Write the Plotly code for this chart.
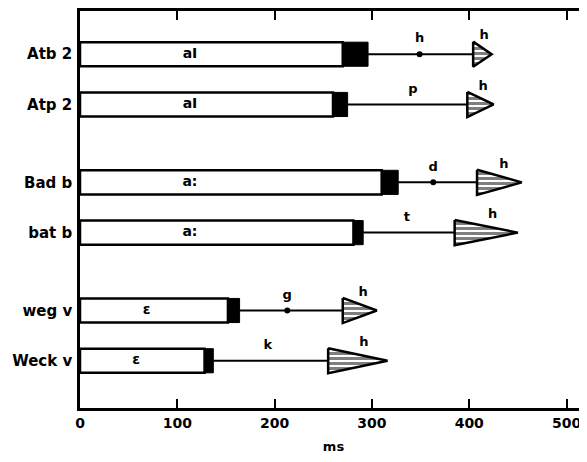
import plotly.graph_objects as go

# ---- data (ms) ----
words = ["Atb 2", "Atp 2", "Bad b", "bat b", "weg v", "Weck v"]
vowel_labels = ["aI", "aI", "a:", "a:", "ɛ", "ɛ"]
vowel_end = [270, 260, 310, 281, 152, 128]
closure_end = [296, 275, 327, 291, 164, 137]
release_x = [349, 342, 363, 336, 213, 193]
release_labels = ["h", "p", "d", "t", "g", "k"]
release_dot = [True, False, True, False, True, False]
asp_start = [404, 398, 408, 385, 270, 255]
asp_end = [423, 425, 454, 450, 305, 316]
x_ticks = [0, 100, 200, 300, 400, 500]

# ---- layout helpers ----
groups = [0, 0, 1, 1, 2, 2]
within, gap = 1.0, 1.55
ypos = []
y = 0.0
for i, g in enumerate(groups):
    if i > 0:
        y += within if groups[i] == groups[i - 1] else gap
    ypos.append(y)

bar_w = 0.48
arrow_h = 0.25
FONT = "DejaVu Sans"

fig = go.Figure()

# vowel (white) bars
fig.add_trace(go.Bar(
    y=ypos, x=vowel_end, base=0, orientation="h", width=bar_w,
    marker=dict(color="white", line=dict(color="black", width=2.5)),
    showlegend=False, hoverinfo="skip"))

# closure (black) segments
fig.add_trace(go.Bar(
    y=ypos, x=[c - v for c, v in zip(closure_end, vowel_end)], base=vowel_end,
    orientation="h", width=bar_w,
    marker=dict(color="black", line=dict(color="black", width=1)),
    showlegend=False, hoverinfo="skip"))

# release lines
for i in range(len(words)):
    fig.add_trace(go.Scatter(
        x=[closure_end[i], asp_start[i]], y=[ypos[i], ypos[i]], mode="lines",
        line=dict(color="black", width=2), showlegend=False, hoverinfo="skip"))

# aspiration arrows (striped triangles)
for i in range(len(words)):
    fig.add_trace(go.Scatter(
        x=[asp_start[i], asp_start[i], asp_end[i], asp_start[i]],
        y=[ypos[i] - arrow_h, ypos[i] + arrow_h, ypos[i], ypos[i] - arrow_h],
        mode="lines", fill="toself", fillcolor="white",
        fillpattern=dict(shape="-", fgcolor="black", bgcolor="white", size=5, solidity=0.6),
        line=dict(color="black", width=2.5), showlegend=False, hoverinfo="skip"))

# release dots
fig.add_trace(go.Scatter(
    x=[x for x, d in zip(release_x, release_dot) if d],
    y=[yy for yy, d in zip(ypos, release_dot) if d],
    mode="markers", marker=dict(color="black", size=6),
    showlegend=False, hoverinfo="skip"))

# release labels
fig.add_trace(go.Scatter(
    x=release_x, y=[yy - 0.3 for yy in ypos], mode="text", text=release_labels,
    textfont=dict(family=FONT, size=13, color="black", weight="bold"),
    showlegend=False, hoverinfo="skip"))

# aspiration labels
fig.add_trace(go.Scatter(
    x=[s + 0.6 * (e - s) for s, e in zip(asp_start, asp_end)],
    y=[yy - 0.36 for yy in ypos], mode="text", text=["h"] * len(words),
    textfont=dict(family=FONT, size=13, color="black", weight="bold"),
    showlegend=False, hoverinfo="skip"))

# vowel labels
fig.add_trace(go.Scatter(
    x=[min(0.45 * v, 113) for v in vowel_end], y=ypos, mode="text", text=vowel_labels,
    textfont=dict(family=FONT, size=14, color="black", weight="bold"),
    showlegend=False, hoverinfo="skip"))

top = ypos[0] - 0.86
bottom = top + 7.9

# the page body adds an 8px margin; the plot runs to the window's right edge
fig.update_layout(
    width=579, height=446,
    margin=dict(l=72, r=0, t=0, b=44),
    paper_bgcolor="white", plot_bgcolor="white",
    barmode="overlay",
    font=dict(family=FONT, color="black"),
    xaxis=dict(
        range=[0, 521], tickvals=x_ticks, ticktext=[str(t) for t in x_ticks],
        ticks="inside", ticklen=9, tickwidth=2, tickcolor="black",
        showline=True, linecolor="black", linewidth=2.5, mirror="ticks",
        showgrid=False, zeroline=False, ticklabeloverflow="allow",
        tickfont=dict(family=FONT, size=14, color="black", weight="bold"),
        title=dict(text="ms", font=dict(family=FONT, size=13, color="black", weight="bold"), standoff=14),
    ),
    yaxis=dict(
        range=[bottom, top], tickvals=ypos, ticktext=words, ticks="",
        showline=True, linecolor="black", linewidth=2.5, mirror=False,
        showgrid=False, zeroline=False, ticklabelstandoff=2,
        tickfont=dict(family=FONT, size=15, color="black", weight="bold"),
    ),
)

fig.write_html("out.html")
